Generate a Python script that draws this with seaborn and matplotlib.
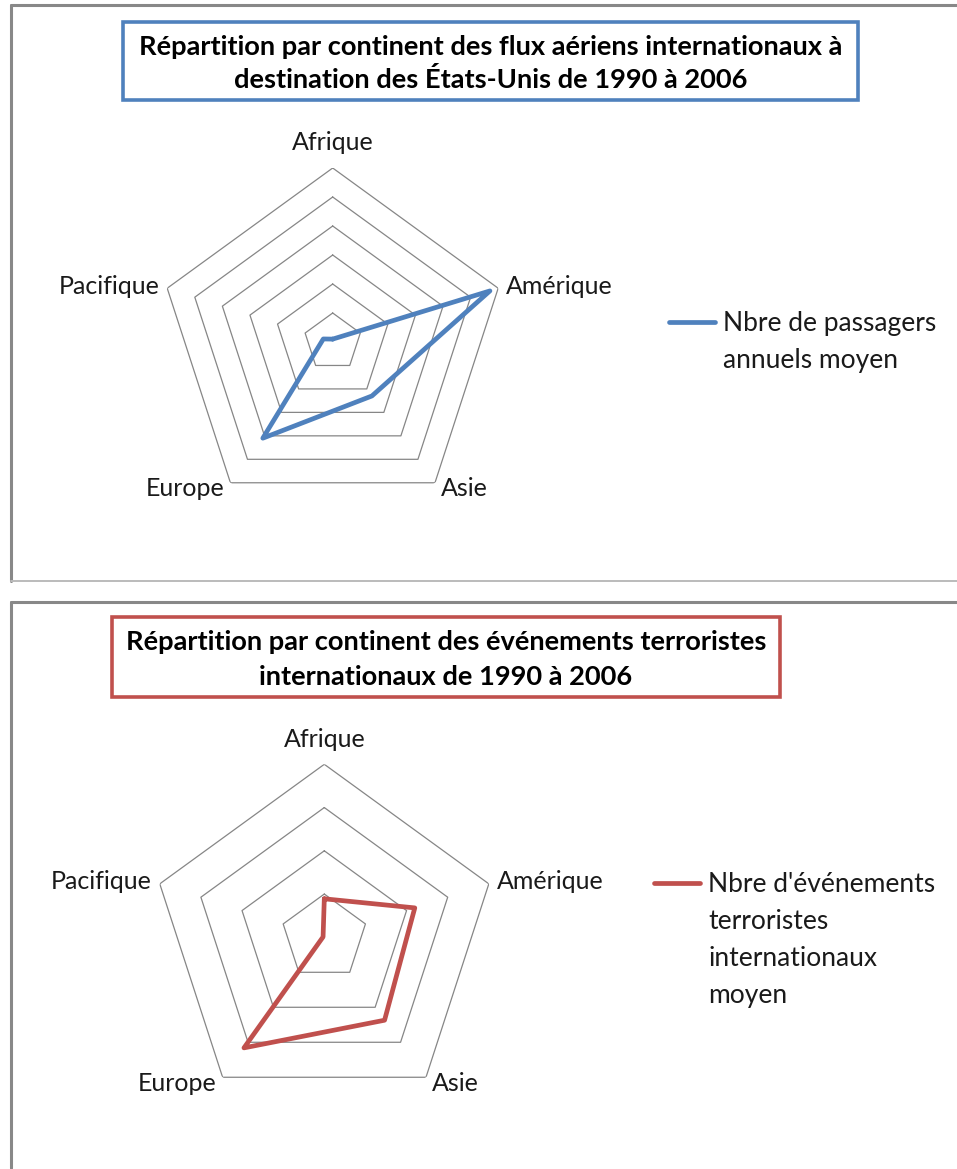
import numpy as np
import pandas as pd
import matplotlib
matplotlib.use("Agg")
import matplotlib.pyplot as plt
from matplotlib.lines import Line2D
from matplotlib.patches import Rectangle
import seaborn as sns

# ---------------- data ----------------
categories = ["Afrique", "Amérique", "Asie", "Europe", "Pacifique"]
passagers = [0.5, 28.5, 11.5, 20.5, 1.7]          # relative scale, max 30
passagers_ticks = [5, 10, 15, 20, 25, 30]
evenements = [8.9, 22.0, 23.7, 31.6, 0.3]         # relative scale, max 40
evenements_ticks = [10, 20, 30, 40]

title_top = "Répartition par continent des flux aériens internationaux à\ndestination des États-Unis de 1990 à 2006"
title_bot = "Répartition par continent des événements terroristes\ninternationaux de 1990 à 2006"
legend_top = "Nbre de passagers\nannuels moyen"
legend_bot = "Nbre d'événements\nterroristes\ninternationaux\nmoyen"

BLUE = "#4F81BD"
RED = "#C0504D"
GRID = "#868686"

sns.set_theme(style="white")
plt.rcParams["font.family"] = ["Lato", "DejaVu Sans"]

W, H = 957, 1169
fig = plt.figure(figsize=(W / 100, H / 100), dpi=100)
fig.patch.set_facecolor("white")


def fx(x):
    return x / W


def fy(y):
    return 1 - y / H


LABEL_FS = 18
LEGEND_FS = 19
label_offsets = {
    "Afrique": ((0, 25), "center", "center"),
    "Amérique": ((8, 2), "left", "center"),
    "Asie": ((6, -6), "left", "center"),
    "Europe": ((-6, -6), "right", "center"),
    "Pacifique": ((-8, 2), "right", "center"),
}


def radar(cx, cy, R, values, ticks, color, leg_label, leg_xy):
    ax = fig.add_axes([fx(cx - R), fy(cy + R), 2 * R / W, 2 * R / H],
                      projection="polar")
    ax.set_theta_zero_location("N")
    ax.set_theta_direction(-1)
    n = len(categories)
    theta = np.linspace(0, 2 * np.pi, n, endpoint=False)
    theta_c = np.append(theta, 2 * np.pi)
    rmax = ticks[-1]
    # pentagon grid rings
    for t in ticks:
        ax.plot(theta_c, [t] * (n + 1), color=GRID, lw=0.9, zorder=1)
    df = pd.DataFrame({"theta": theta_c, "value": list(values) + [values[0]]})
    sns.lineplot(data=df, x="theta", y="value", sort=False, ax=ax,
                 color=color, lw=3.4, zorder=3, label=leg_label, legend=False)
    ax.set_ylim(0, rmax)
    ax.grid(False)
    ax.set_xticks([])
    ax.set_yticks([])
    ax.set_xlabel("")
    ax.set_ylabel("")
    ax.spines["polar"].set_visible(False)
    ax.patch.set_alpha(0)
    for cat, th in zip(categories, theta):
        off, ha, va = label_offsets[cat]
        ax.annotate(cat, xy=(th, rmax), xytext=off, textcoords="offset pixels",
                    ha=ha, va=va, fontsize=LABEL_FS, color="#1a1a1a",
                    annotation_clip=False)
    handle = Line2D([], [], color=color, lw=3.4)
    leg = fig.legend([handle], [leg_label], loc="upper left",
                     bbox_to_anchor=(fx(leg_xy[0]), fy(leg_xy[1])),
                     frameon=False, fontsize=LEGEND_FS, handlelength=1.75,
                     handletextpad=0.3, borderpad=0, borderaxespad=0,
                     labelspacing=0, handleheight=1.2)
    for t in leg.get_texts():
        t.set_linespacing(1.6)
        t.set_color("#1a1a1a")
    for col in leg._legend_handle_box.get_children():
        for hp in col.get_children():
            hp.align = "top"
    return ax


radar(332.7, 342, 174, passagers, passagers_ticks, BLUE, legend_top, (669, 311))
radar(324.3, 937.3, 173, evenements, evenements_ticks, RED, legend_bot, (654, 872))

# panel borders
fig.add_artist(Line2D([fx(11), fx(11)], [fy(5), fy(581)], color="#888888", lw=2.2))
fig.add_artist(Line2D([fx(11), fx(960)], [fy(5), fy(5)], color="#888888", lw=2.2))
fig.add_artist(Line2D([fx(11), fx(960)], [fy(581), fy(581)], color="#bbbbbb", lw=1.4))
fig.add_artist(Line2D([fx(11), fx(11)], [fy(602), fy(1168)], color="#888888", lw=2.2))
fig.add_artist(Line2D([fx(11), fx(960)], [fy(602), fy(602)], color="#888888", lw=2.2))

# title boxes
def title_box(x0, y0, x1, y1, color, text, ycenters):
    fig.add_artist(Rectangle((fx(x0), fy(y1)), fx(x1) - fx(x0), fy(y0) - fy(y1),
                             transform=fig.transFigure, fill=False,
                             edgecolor=color, lw=2.6))
    xc = (x0 + x1) / 2
    for line, yc in zip(text.split("\n"), ycenters):
        fig.text(fx(xc), fy(yc), line, ha="center", va="center",
                 fontsize=19.6, fontweight="bold", color="black")


title_box(123, 22, 858, 100, BLUE, title_top, (47, 80))
title_box(112, 617, 780, 697, RED, title_bot, (642, 677))

fig.savefig("out.png", dpi=100, facecolor="white")
